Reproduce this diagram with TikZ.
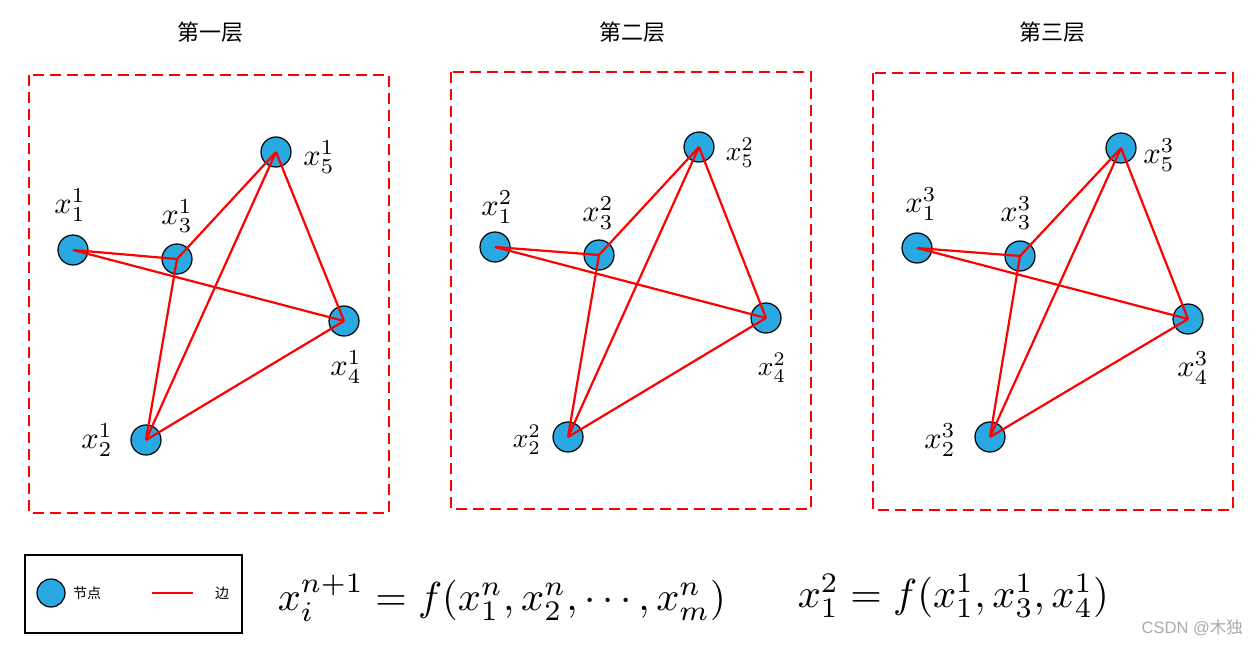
\documentclass[tikz,border=0pt]{standalone}
\usepackage{fontspec}
\newfontfamily\cjk{Noto Sans CJK SC}
\newfontfamily\wmfont{Liberation Sans}
\definecolor{nodeblue}{RGB}{41,169,225}
\definecolor{wmgray}{RGB}{170,170,170}
\tikzset{
  vtx/.style={circle, draw=black, line width=1.2pt, fill=nodeblue, minimum size=30pt, inner sep=0pt},
  edge/.style={draw=red, line width=2.2pt},
  lbl/.style={scale=3.05, inner sep=0pt},
  lbls/.style={scale=2.75, inner sep=0pt},
  layerbox/.style={draw=red, line width=2pt, dash pattern=on 11pt off 6pt},
  title/.style={font=\cjk\fontsize{22}{26}\selectfont, inner sep=0pt},
  legtxt/.style={font=\cjk\fontsize{14}{16}\selectfont, inner sep=0pt},
}
\begin{document}
\begin{tikzpicture}[x=1pt,y=-1pt]
\useasboundingbox (0,0) rectangle (1259,647);
% titles
\node[title] (t1) at (210,32) {第一层};
\node[title] (t2) at (632,32) {第二层};
\node[title] (t3) at (1052,32) {第三层};
% boxes
\draw[layerbox] (29,75) rectangle (389,513);
\draw[layerbox] (451,72) rectangle (811,509);
\draw[layerbox] (873,73) rectangle (1233,510);
% panel 1
\node[vtx] (a1) at (73,250) {};
\node[vtx] (a3) at (177,259) {};
\node[vtx] (a5) at (276,152) {};
\node[vtx] (a4) at (344,321) {};
\node[vtx] (a2) at (146,440) {};
\node[lbl] (la1) at (70,205) {$x_1^1$};
\node[lbl] (la3) at (177,216) {$x_3^1$};
\node[lbl] (la5) at (319,157) {$x_5^1$};
\node[lbl] (la4) at (346,367) {$x_4^1$};
\node[lbl] (la2) at (97,440) {$x_2^1$};
\foreach \u/\v in {1/3,1/4,3/5,3/2,5/2,5/4,2/4}
  \draw[edge] (a\u.center) -- (a\v.center);
% panel 2
\node[vtx] (b1) at (495,247) {};
\node[vtx] (b3) at (599,255) {};
\node[vtx] (b5) at (699,147) {};
\node[vtx] (b4) at (766,318) {};
\node[vtx] (b2) at (568,437) {};
\node[lbl] (lb1) at (497,207) {$x_1^2$};
\node[lbl] (lb3) at (598,213) {$x_3^2$};
\node[lbls] (lb5) at (740,153) {$x_5^2$};
\node[lbls] (lb4) at (772,368) {$x_4^2$};
\node[lbls] (lb2) at (527,440) {$x_2^2$};
\foreach \u/\v in {1/3,1/4,3/5,3/2,5/2,5/4,2/4}
  \draw[edge] (b\u.center) -- (b\v.center);
% panel 3
\node[vtx] (c1) at (917,248) {};
\node[vtx] (c3) at (1020,256) {};
\node[vtx] (c5) at (1121,148) {};
\node[vtx] (c4) at (1188,319) {};
\node[vtx] (c2) at (990,437) {};
\node[lbl] (lc1) at (921,204) {$x_1^3$};
\node[lbl] (lc3) at (1016,213) {$x_3^3$};
\node[lbl] (lc5) at (1159,155) {$x_5^3$};
\node[lbl] (lc4) at (1193,368) {$x_4^3$};
\node[lbl] (lc2) at (940,440) {$x_2^3$};
\foreach \u/\v in {1/3,1/4,3/5,3/2,5/2,5/4,2/4}
  \draw[edge] (c\u.center) -- (c\v.center);
% legend
\node[draw=black, line width=2pt, minimum width=217pt, minimum height=78pt, inner sep=0pt] (legend) at (133.5,594) {};
\node[vtx, minimum size=28pt] (legnode) at (51,593) {};
\node[legtxt, anchor=west] (legnodetxt) at (73,593) {节点};
\coordinate (le1) at (152,593);
\coordinate (le2) at (193,593);
\draw[edge] (le1) -- (le2);
\node[legtxt] (legedgetxt) at (222,593) {边};
% formulas
\node[anchor=west, inner sep=0pt, scale=4.05] (f1) at (277,598) {$x_i^{n+1} = f(x_1^n, x_2^n, \cdots, x_m^n)$};
\node[anchor=west, inner sep=0pt, scale=4.05] (f2) at (797,596) {$x_1^2 = f(x_1^1, x_3^1, x_4^1)$};
% watermark
\node[anchor=east, inner sep=0pt, text=wmgray, font=\wmfont\fontsize{16.5}{18}\selectfont] (wm) at (1243,628) {CSDN @{\cjk 木独}};
\end{tikzpicture}
\end{document}
